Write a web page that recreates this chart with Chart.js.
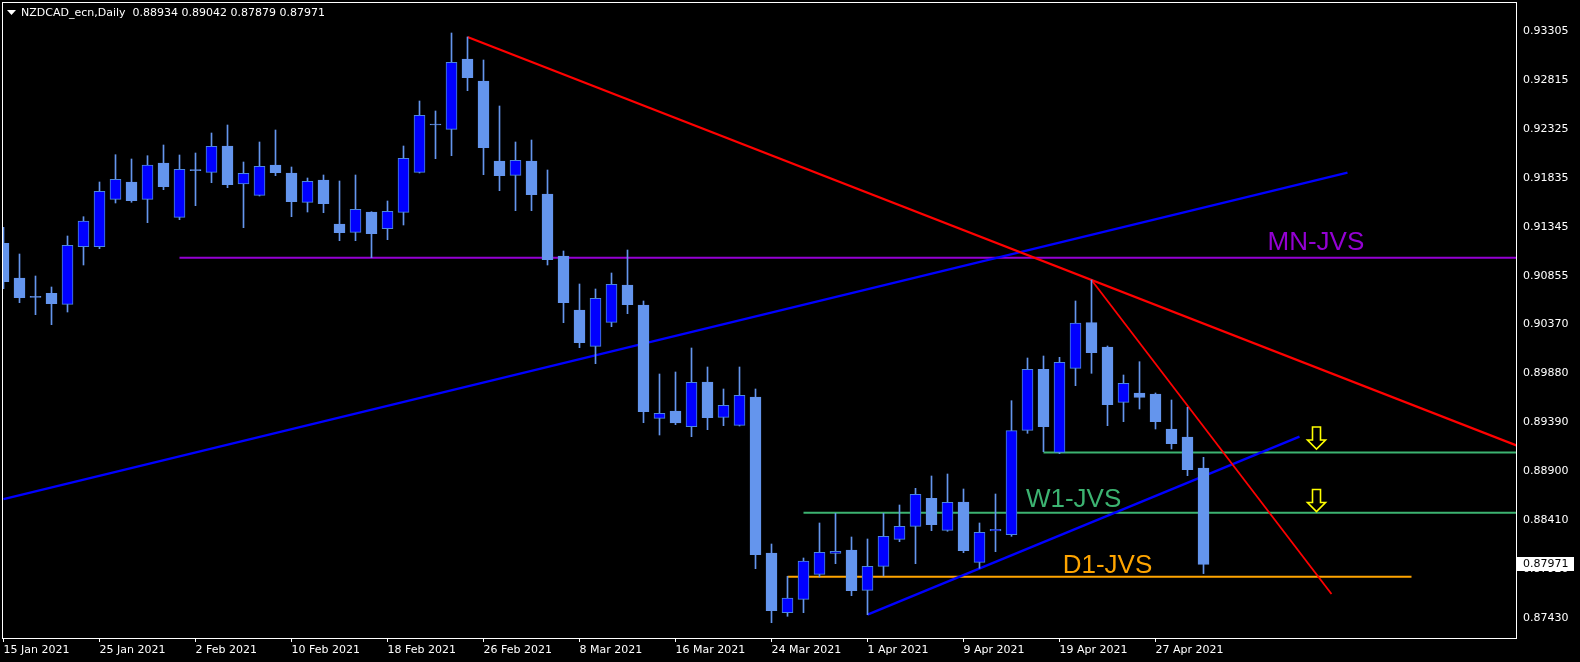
<!DOCTYPE html>
<html>
<head>
<meta charset="utf-8">
<script src="https://cdn.jsdelivr.net/npm/chart.js@4.4.0/dist/chart.umd.min.js"></script>
<style>
  html, body { margin: 0; padding: 0; background: #000; }
  canvas { display: block; background: #000; }
</style>
</head>
<body>
<canvas id="chart" width="1580" height="662"></canvas>
<script>
// daily bars
const dates = [
  '2021-01-15','2021-01-18','2021-01-19','2021-01-20','2021-01-21','2021-01-22','2021-01-25','2021-01-26','2021-01-27','2021-01-28','2021-01-29',
  '2021-02-01','2021-02-02','2021-02-03','2021-02-04','2021-02-05','2021-02-08','2021-02-09','2021-02-10','2021-02-11','2021-02-12',
  '2021-02-15','2021-02-16','2021-02-17','2021-02-18','2021-02-19','2021-02-22','2021-02-23','2021-02-24','2021-02-25','2021-02-26',
  '2021-03-01','2021-03-02','2021-03-03','2021-03-04','2021-03-05','2021-03-08','2021-03-09','2021-03-10','2021-03-11','2021-03-12',
  '2021-03-15','2021-03-16','2021-03-17','2021-03-18','2021-03-19','2021-03-22','2021-03-23','2021-03-24','2021-03-25','2021-03-26',
  '2021-03-29','2021-03-30','2021-03-31','2021-04-01','2021-04-02','2021-04-05','2021-04-06','2021-04-07','2021-04-08','2021-04-09',
  '2021-04-12','2021-04-13','2021-04-14','2021-04-15','2021-04-16','2021-04-19','2021-04-20','2021-04-21','2021-04-22','2021-04-23',
  '2021-04-26','2021-04-27','2021-04-28','2021-04-29','2021-04-30'
];
const open = [
  0.91182,0.90835,0.90652,0.90682,0.90572,0.91148,0.91148,0.91622,0.91795,0.91622,0.91985,
  0.91442,0.91918,0.91892,0.92155,0.91775,0.91662,0.91965,0.91885,0.91592,0.91815,
  0.91375,0.91292,0.91495,0.91328,0.91492,0.91892,0.92375,0.92322,0.93025,0.92805,
  0.92005,0.91862,0.92005,0.91675,0.91055,0.90515,0.90152,0.90392,0.90765,0.90565,
  0.89432,0.89505,0.89348,0.89795,0.89442,0.89362,0.89645,0.88085,0.87488,0.87622,
  0.87872,0.88082,0.88115,0.87712,0.87952,0.88222,0.88352,0.88632,0.88312,0.88595,
  0.87992,0.88305,0.88268,0.89312,0.89922,0.89092,0.89932,0.90388,0.90145,0.89592,
  0.89685,0.89675,0.89325,0.89245,0.88934
];
const high = [
  0.91342,0.91075,0.90855,0.90745,0.91255,0.91448,0.91795,0.92068,0.92025,0.92058,0.92165,
  0.92065,0.92085,0.92285,0.92365,0.91995,0.92195,0.92315,0.91945,0.91835,0.91865,
  0.91805,0.91865,0.91498,0.91605,0.92155,0.92605,0.92505,0.93285,0.93245,0.93015,
  0.92555,0.92195,0.92215,0.91915,0.91105,0.90775,0.90725,0.90885,0.91115,0.90605,
  0.89875,0.89895,0.90135,0.89945,0.89725,0.89945,0.89725,0.88175,0.87852,0.88035,
  0.88385,0.88482,0.88245,0.88225,0.88482,0.88565,0.88732,0.88855,0.88875,0.88725,
  0.88385,0.88675,0.89608,0.90035,0.90055,0.90042,0.90605,0.90815,0.90155,0.89865,
  0.89998,0.89685,0.89615,0.89542,0.89042
];
const low = [
  0.90728,0.90588,0.90468,0.90368,0.90495,0.90965,0.91128,0.91585,0.91592,0.91388,0.91718,
  0.91418,0.91558,0.91788,0.91738,0.91338,0.91655,0.91858,0.91448,0.91495,0.91488,
  0.91208,0.91208,0.91038,0.91218,0.91365,0.91885,0.92028,0.92058,0.92708,0.91868,
  0.91708,0.91508,0.91508,0.90965,0.90388,0.90138,0.89978,0.90348,0.90478,0.89388,
  0.89265,0.89368,0.89248,0.89318,0.89358,0.89355,0.87928,0.87388,0.87452,0.87488,
  0.87845,0.87978,0.87658,0.87468,0.87855,0.88198,0.87978,0.88308,0.88302,0.88088,
  0.87932,0.88098,0.88252,0.89282,0.89098,0.89078,0.89758,0.89882,0.89358,0.89398,
  0.89525,0.89325,0.89125,0.88858,0.87879
];
const close = [
  0.90798,0.90638,0.90642,0.90578,0.91162,0.91405,0.91702,0.91822,0.91608,0.91965,0.91748,
  0.91922,0.91908,0.92152,0.91768,0.91882,0.91952,0.91888,0.91598,0.91802,0.91578,
  0.91288,0.91522,0.91278,0.91502,0.92032,0.92462,0.92365,0.92992,0.92838,0.92138,
  0.91858,0.92012,0.91668,0.91018,0.90588,0.90188,0.90632,0.90772,0.90568,0.89498,
  0.89482,0.89385,0.89792,0.89438,0.89562,0.89662,0.88068,0.87508,0.87635,0.88005,
  0.88092,0.88102,0.87708,0.87952,0.88252,0.88352,0.88672,0.88368,0.88592,0.88108,
  0.88292,0.88322,0.89308,0.89922,0.89348,0.89992,0.90385,0.90088,0.89568,0.89782,
  0.89642,0.89398,0.89178,0.88918,0.87971
];

const tickDates = ['2021-01-15','2021-01-25','2021-02-02','2021-02-10','2021-02-18','2021-02-26','2021-03-08',
  '2021-03-16','2021-03-24','2021-04-01','2021-04-09','2021-04-19','2021-04-27'];
const tickLabels = ['15 Jan 2021','25 Jan 2021','2 Feb 2021','10 Feb 2021','18 Feb 2021','26 Feb 2021','8 Mar 2021',
  '16 Mar 2021','24 Mar 2021','1 Apr 2021','9 Apr 2021','19 Apr 2021','27 Apr 2021'];
const priceTicks = [0.93305,0.92815,0.92325,0.91835,0.91345,0.90855,0.90370,0.89880,0.89390,0.88900,0.88410,0.87920,0.87430];
const priceLabels = ['0.93305','0.92815','0.92325','0.91835','0.91345','0.90855','0.90370','0.89880','0.89390','0.88900','0.88410','0.87920','0.87430'];

const symbol = 'NZDCAD_ecn,Daily';
const lastIdx = dates.length - 1;

// drawn objects, in (bar index, price)
const redTrend = [[29, 0.93245], [96, 0.89071]];
const redSteep = [[68, 0.90815], [83, 0.87675]];
const blueTrend = [[0, 0.88624], [84, 0.91888]];
const blueSupport = [[54, 0.87468], [81, 0.89248]];
const mnLevel = [[11, 0.91038], [96, 0.91038]];
const w1Upper = [[65, 0.89090], [96, 0.89090]];
const w1Lower = [[50, 0.88488], [96, 0.88488]];
const d1Level = [[49, 0.87848], [88, 0.87848]];

const levelTexts = [
  { text: 'MN-JVS', at: [79.0, 0.91115], color: '#9400D3' },
  { text: 'W1-JVS', at: [63.9, 0.88548], color: '#3CB371' },
  { text: 'D1-JVS', at: [66.2, 0.87885], color: '#FFA500' }
];
const arrowTips = [[82, 0.89125], [82, 0.88500]];

const BULL = '#0000FF';
const BEAR = '#6495ED';
const WICK = '#6495ED';
const BULL_EDGE = '#4D86DC';

function pts(arr) {
  return arr.map(p => ({ x: p[0], y: p[1] }));
}
function lineSet(arr, color, width) {
  return {
    type: 'line',
    data: pts(arr),
    borderColor: color,
    borderWidth: width || 2,
    pointRadius: 0,
    tension: 0,
    clip: 0,
    order: 3
  };
}

const xMin = -0.03125;
const xMax = xMin + 1513 / 16;

// MT4 style frame, header, labels and price tag
const mtOverlay = {
  id: 'mtOverlay',
  beforeDraw(chart) {
    const c = chart.ctx;
    c.save();
    c.fillStyle = '#000';
    c.fillRect(0, 0, chart.width, chart.height);
    c.restore();
  },
  afterDraw(chart) {
    const c = chart.ctx;
    const a = chart.chartArea;
    const xs = chart.scales.x, ys = chart.scales.y;
    c.save();

    // frame
    c.strokeStyle = '#FFFFFF';
    c.lineWidth = 1;
    c.strokeRect(a.left - 0.5, a.top + 0.5, a.right - a.left + 1, a.bottom - a.top);

    // header
    c.fillStyle = '#FFFFFF';
    c.beginPath();
    c.moveTo(7, 10); c.lineTo(16, 10); c.lineTo(11.5, 15); c.closePath();
    c.fill();
    c.font = '11px "DejaVu Sans"';
    c.textBaseline = 'alphabetic';
    c.textAlign = 'left';
    const ohlc = [open[lastIdx], high[lastIdx], low[lastIdx], close[lastIdx]].map(v => v.toFixed(5)).join(' ');
    c.fillText(symbol + '  ' + ohlc, 21, 16);

    // level names
    c.font = '26px "Liberation Sans"';
    levelTexts.forEach(t => {
      c.fillStyle = t.color;
      c.fillText(t.text, xs.getPixelForValue(t.at[0]), ys.getPixelForValue(t.at[1]));
    });

    // hollow down arrows
    arrowTips.forEach(p => {
      const x = Math.round(xs.getPixelForValue(p[0])) + 0.5;
      const y = ys.getPixelForValue(p[1]);
      c.beginPath();
      c.moveTo(x - 4, y - 22);
      c.lineTo(x + 4, y - 22);
      c.lineTo(x + 4, y - 9);
      c.lineTo(x + 9, y - 9);
      c.lineTo(x, y);
      c.lineTo(x - 9, y - 9);
      c.lineTo(x - 4, y - 9);
      c.closePath();
      c.strokeStyle = '#FFFF00';
      c.lineWidth = 1.6;
      c.stroke();
    });

    // current price tag
    const py = Math.round(ys.getPixelForValue(close[lastIdx]));
    c.fillStyle = '#FFFFFF';
    c.fillRect(a.right + 1, py - 7, 57, 14);
    c.fillStyle = '#000000';
    c.font = '11px "DejaVu Sans"';
    c.textBaseline = 'middle';
    c.fillText(close[lastIdx].toFixed(5), a.right + 7, py + 0.5);
    c.restore();
  }
};

Chart.defaults.font.family = 'DejaVu Sans';
Chart.defaults.font.size = 11;
Chart.defaults.color = '#FFFFFF';

const idx = dates.map((d, i) => i);

new Chart(document.getElementById('chart'), {
  type: 'bar',
  data: {
    datasets: [
      lineSet(redTrend, '#FF0000', 2.2),
      lineSet(redSteep, '#FF0000', 1.8),
      lineSet(blueTrend, '#0000FF', 2.4),
      lineSet(blueSupport, '#0000FF', 2.4),
      lineSet(mnLevel, '#9400D3', 2),
      lineSet(w1Upper, '#3CB371', 2),
      lineSet(w1Lower, '#3CB371', 2),
      lineSet(d1Level, '#FFA500', 2),
      {
        label: 'body',
        data: idx.map(i => ({ x: i, y: [open[i], close[i]] })),
        backgroundColor: ctx => close[ctx.dataIndex] > open[ctx.dataIndex] ? BULL : BEAR,
        borderColor: ctx => close[ctx.dataIndex] > open[ctx.dataIndex] ? BULL_EDGE : BEAR,
        borderWidth: 1,
        borderSkipped: false,
        barThickness: 11,
        minBarLength: 1,
        grouped: false,
        order: 1
      },
      {
        label: 'wick',
        data: idx.map(i => ({ x: i, y: [low[i], high[i]] })),
        backgroundColor: WICK,
        borderWidth: 0,
        barThickness: 1,
        grouped: false,
        order: 2
      }
    ]
  },
  options: {
    responsive: false,
    devicePixelRatio: 1,
    animation: false,
    layout: { padding: { left: 3, top: 2, right: 0, bottom: 0 } },
    plugins: { legend: { display: false }, tooltip: { enabled: false } },
    scales: {
      x: {
        type: 'linear',
        min: xMin,
        max: xMax,
        offset: false,
        grid: { display: true, drawOnChartArea: false, drawTicks: true, tickLength: 4, color: '#FFFFFF', offset: false },
        border: { display: false },
        afterBuildTicks: s => { s.ticks = tickDates.map(d => ({ value: dates.indexOf(d) })); },
        afterFit: s => { s.height = 24; s.paddingLeft = 0; s.paddingRight = 0; },
        ticks: {
          autoSkip: false, maxRotation: 0, minRotation: 0, align: 'start', padding: 2,
          color: '#FFFFFF',
          callback: (v, i) => tickLabels[i]
        }
      },
      y: {
        type: 'linear',
        position: 'right',
        min: 0.87235,
        max: 0.93595,
        grid: { display: false, drawTicks: false },
        border: { display: false },
        afterBuildTicks: s => { s.ticks = priceTicks.map(v => ({ value: v })); },
        afterFit: s => { s.width = 64; s.paddingTop = 0; s.paddingBottom = 0; },
        ticks: {
          autoSkip: false, crossAlign: 'near', padding: 7,
          color: '#FFFFFF',
          callback: (v, i) => priceLabels[i]
        }
      }
    }
  },
  plugins: [mtOverlay]
});
</script>
</body>
</html>
